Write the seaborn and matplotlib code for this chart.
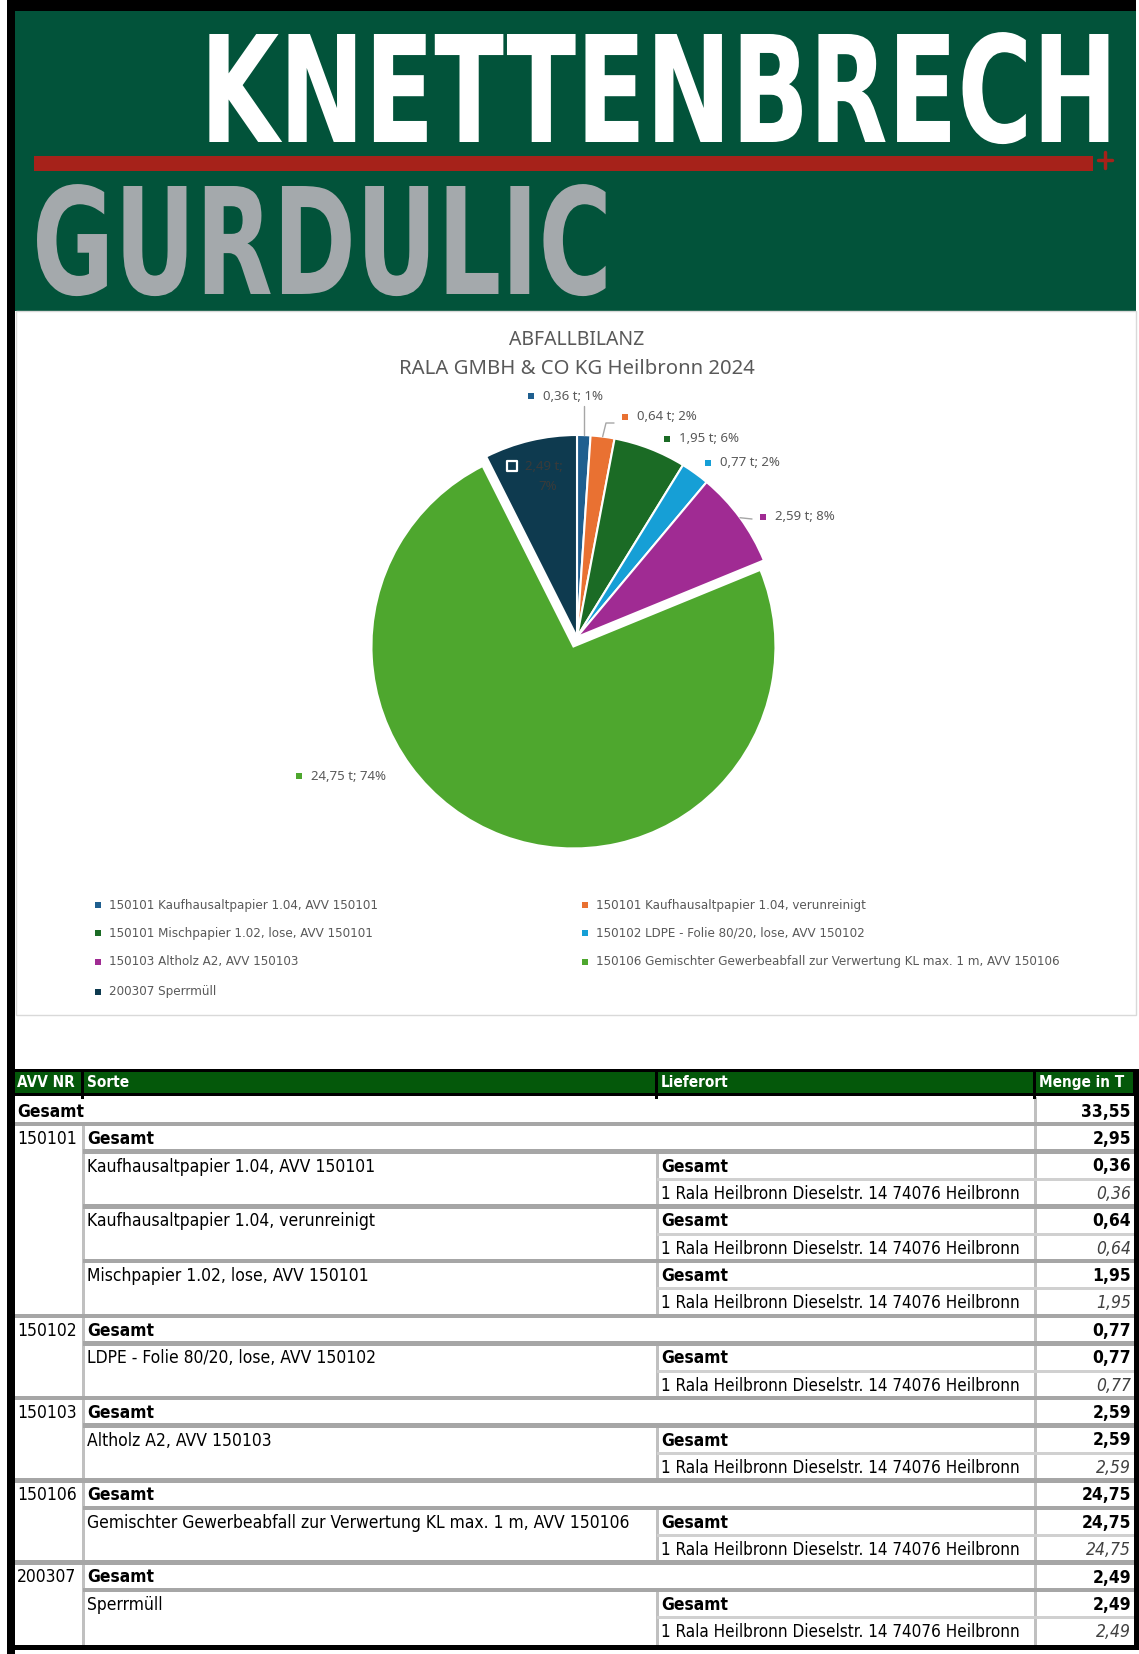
import matplotlib
matplotlib.use("Agg")
import numpy as np
import pandas as pd
import matplotlib.pyplot as plt
from matplotlib.patches import Rectangle
from matplotlib.patheffects import AbstractPathEffect
from matplotlib.transforms import Affine2D
from matplotlib import font_manager
import seaborn as sns

# ---- data ----
sorten = ["150101 Kaufhausaltpapier 1.04, AVV 150101",
          "150101 Kaufhausaltpapier 1.04, verunreinigt",
          "150101 Mischpapier 1.02, lose, AVV 150101",
          "150102 LDPE - Folie 80/20, lose, AVV 150102",
          "150103 Altholz A2, AVV 150103",
          "150106 Gemischter Gewerbeabfall zur Verwertung KL max. 1 m, AVV 150106",
          "200307 Sperrmüll"]
mengen = [0.36, 0.64, 1.95, 0.77, 2.59, 24.75, 2.49]
farben = ["#1f5f8f", "#e97132", "#1b6b25", "#169fd6", "#a02b93", "#4ea72e", "#0e3a4f"]

ort = "1 Rala Heilbronn Dieselstr. 14 74076 Heilbronn"
tab_avv = ["Gesamt", "150101", "", "", "", "", "", "", "150102", "", "",
           "150103", "", "", "150106", "", "", "200307", "", ""]
tab_sorte = ["", "Gesamt", "Kaufhausaltpapier 1.04, AVV 150101", "",
             "Kaufhausaltpapier 1.04, verunreinigt", "",
             "Mischpapier 1.02, lose, AVV 150101", "",
             "Gesamt", "LDPE - Folie 80/20, lose, AVV 150102", "",
             "Gesamt", "Altholz A2, AVV 150103", "",
             "Gesamt", "Gemischter Gewerbeabfall zur Verwertung KL max. 1 m, AVV 150106", "",
             "Gesamt", "Sperrmüll", ""]
tab_ort = ["", "", "Gesamt", ort, "Gesamt", ort, "Gesamt", ort,
           "", "Gesamt", ort, "", "Gesamt", ort, "", "Gesamt", ort, "", "Gesamt", ort]
tab_menge = [33.55, 2.95, 0.36, 0.36, 0.64, 0.64, 1.95, 1.95, 0.77, 0.77, 0.77,
             2.59, 2.59, 2.59, 24.75, 24.75, 24.75, 2.49, 2.49, 2.49]
tab_ebene = [0, 1, 2, 3, 2, 3, 2, 3, 1, 2, 3, 1, 2, 3, 1, 2, 3, 1, 2, 3]
kopf = ["AVV NR", "Sorte", "Lieferort", "Menge in T"]

df = pd.DataFrame({"avv": tab_avv, "sorte": tab_sorte, "ort": tab_ort,
                   "menge": tab_menge, "ebene": tab_ebene})

sns.set_theme(style="white")
# narrow font: DejaVu Sans Condensed if it is there, else Liberation Sans
has_cond = any(f.name == "DejaVu Sans" and f.stretch == "condensed"
               for f in font_manager.fontManager.ttflist)
NARROW = dict(family=["DejaVu Sans"], fontstretch="condensed") if has_cond \
    else dict(family=["Liberation Sans", "DejaVu Sans"])
CHART = ["Noto Sans", "DejaVu Sans"]
plt.rcParams["font.family"] = NARROW["family"]

W, H = 1139, 1654
fig = plt.figure(figsize=(W / 100, H / 100), dpi=100)


def pixel_axes():
    a = fig.add_axes([0, 0, 1, 1])
    a.set_xlim(0, W)
    a.set_ylim(H, 0)
    a.axis("off")
    a.patch.set_alpha(0)
    return a


bg = pixel_axes()


def box(x0, y0, x1, y1, color, z=1, ax=None):
    (ax or bg).add_patch(Rectangle((x0, y0), x1 - x0, y1 - y0, facecolor=color,
                                   edgecolor="none", zorder=z))


def fit(t, width):
    r = fig.canvas.get_renderer()
    bb = t.get_window_extent(r)
    t.set_fontsize(t.get_fontsize() * width / bb.width)


def fmt(v):
    return f"{v:.2f}".replace(".", ",")


class Stretch(AbstractPathEffect):
    """stretch glyphs vertically about the baseline (logo lettering is condensed)"""

    def __init__(self, sy, base):
        super().__init__()
        self.sy, self.base = sy, base

    def draw_path(self, renderer, gc, tpath, affine, rgbFace=None):
        tr = affine + Affine2D().translate(0, -self.base).scale(1, self.sy).translate(0, self.base)
        renderer.draw_path(gc, tpath, tr, rgbFace)


def logo(x, base, s, color, width, cap):
    t = bg.text(x, base, s, color=color, fontsize=100, fontweight="bold",
                ha="left", va="baseline", zorder=3, **NARROW)
    fit(t, width)
    cap_px = 0.729 * t.get_fontsize() * 100 / 72
    t.set_path_effects([Stretch(cap / cap_px, H - base)])
    return t


# ---- frame + logo header ----
box(7, 0, 1136, 11, "black", 5)
box(7, 0, 15, H, "black", 5)
box(15, 11, 1136, 311, "#02533a")
logo(200, 142, "KNETTENBRECH", "white", 918, 108)
box(34, 156, 1093, 171, "#a6221a", 3)
bg.plot([1098, 1112], [160, 160], color="#a6221a", lw=2.5, zorder=3)
bg.plot([1105, 1105], [152, 168], color="#a6221a", lw=2.5, zorder=3)
logo(32, 294, "GURDULIC", "#a4a9ac", 580, 108)

# ---- chart area ----
bg.add_patch(Rectangle((16, 311), 1120, 704, facecolor="white",
                       edgecolor="#d9d9d9", lw=1, zorder=1))
bg.text(577, 340, "ABFALLBILANZ", ha="center", va="center", fontsize=14,
        color="#595959", family=CHART)
tt = bg.text(577, 369, "RALA GMBH & CO KG Heilbronn 2024", ha="center",
             va="center", fontsize=14, color="#595959", family=CHART)
fit(tt, 355)

cx, cy, R = 577, 637, 202
S = 300
pie_ax = fig.add_axes([(cx - S) / W, (H - (cy + S)) / H, 2 * S / W, 2 * S / H])
explode = [0, 0, 0, 0, 0, 0.05, 0]
pie_ax.pie(mengen, colors=sns.color_palette(farben), startangle=90,
           counterclock=False, explode=explode,
           wedgeprops=dict(edgecolor="white", linewidth=1.5))
pie_ax.set_xlim(-S / R, S / R)
pie_ax.set_ylim(-S / R, S / R)
pie_ax.axis("off")

# overlay for labels and leader lines (above the pie)
ov = pixel_axes()

total = sum(mengen)
anteile = np.array(mengen) / total
cum = np.cumsum(anteile)
mid = (cum - anteile / 2) * 2 * np.pi


def rand(i):
    return cx + R * np.sin(mid[i]), cy - R * np.cos(mid[i])


# label anchor positions (marker centre, pixels)
lab_pos = [(531, 396), (625, 417), (667, 439), (708, 463), (763, 517), (299, 776), (512, 466)]
for i, (lx, ly) in enumerate(lab_pos):
    txt = f"{fmt(mengen[i])} t; {round(anteile[i] * 100)}%"
    if i == 6:
        ov.scatter([lx], [ly], marker="s", s=42, color=farben[i],
                   edgecolor="white", linewidth=1.6, zorder=10)
        ov.text(525, ly, f"{fmt(mengen[i])} t;", ha="left", va="center",
                fontsize=9.5, color="#3a3a3a", family=CHART, zorder=10)
        ov.text(548, 487, f"{round(anteile[i] * 100)}%", ha="center", va="center",
                fontsize=9.5, color="#3a3a3a", family=CHART, zorder=10)
        continue
    ov.scatter([lx], [ly], marker="s", s=18, color=farben[i], linewidth=0, zorder=10)
    ov.text(lx + 12, ly, txt, ha="left", va="center", fontsize=9.5,
            color="#595959", family=CHART, zorder=10)

# leader lines
ex, ey = rand(0)
ov.plot([ex, ex], [ey, 406], color="#a6a6a6", lw=1, zorder=9)
ex, ey = rand(1)
ov.plot([ex, 606, 614], [ey, 423, 423], color="#a6a6a6", lw=1, zorder=9)
ex, ey = rand(4)
ov.plot([ex, 752], [ey, 519], color="#a6a6a6", lw=1, zorder=9)

# legend (row-wise, two columns)
leg_x = [98, 585]
leg_y = [905, 933, 962, 992]
for k, name in enumerate(sorten):
    lx, ly = leg_x[k % 2], leg_y[k // 2]
    ov.scatter([lx], [ly], marker="s", s=16, color=farben[k], linewidth=0, zorder=10)
    ov.text(lx + 11, ly, name, ha="left", va="center", fontsize=9.5,
            color="#595959", zorder=10, **NARROW)

# ---- table ----
c0, c1, c2, c3, c4 = 15, 83, 657, 1035, 1135
hdr_top, hdr_bot = 1069, 1096
row0, rh = 1097, 27.4

box(c0, hdr_top, c4, hdr_bot, "black", 2)
box(c0, hdr_top + 3, c4 - 2, hdr_bot - 3, "#04580a", 3)
for x in (c1, c2, c3):
    box(x - 2, hdr_top, x + 1, hdr_bot + 3, "black", 4)
for x, lab in zip((c0 + 2, c1 + 4, c2 + 4, c3 + 4), kopf):
    bg.text(x, (hdr_top + hdr_bot) / 2, lab, color="white", fontsize=11,
            fontweight="bold", ha="left", va="center", zorder=5, **NARROW)

for i, r in df.iterrows():
    y = row0 + i * rh
    yc = y + rh / 2 + 1
    lv = r["ebene"]
    if lv == 1:
        box(c0, y - 2.5, c4, y + 2, "#a6a6a6", 3)
    elif lv == 2:
        box(c1, y - 2.5, c4, y + 2, "#a6a6a6", 3)
    elif lv == 3:
        box(c2, y - 1.5, c4, y + 1.5, "#d0d0d0", 3)
    if lv >= 1:
        box(c1 - 1.5, y, c1 + 1.5, y + rh, "#c0c0c0", 2)
    if lv >= 2:
        box(c2 - 1.5, y, c2 + 1.5, y + rh, "#c0c0c0", 2)
    box(c3 - 1.5, y, c3 + 1.5, y + rh, "#c0c0c0", 2)

    for x, col in ((c0 + 2, "avv"), (c1 + 4, "sorte"), (c2 + 4, "ort")):
        s = r[col]
        if s:
            t = bg.text(x, yc, s, ha="left", va="center", fontsize=12.5,
                        fontweight="bold" if s == "Gesamt" else "normal",
                        color="black", zorder=6, **NARROW)
            if s == ort:
                fit(t, 360)
    if lv == 3:
        bg.text(c4 - 4, yc, fmt(r["menge"]), ha="right", va="center",
                fontsize=12.5, style="italic", color="#404040", zorder=6, **NARROW)
    else:
        bg.text(c4 - 4, yc, fmt(r["menge"]), ha="right", va="center",
                fontsize=12.5, fontweight="bold", color="black", zorder=6, **NARROW)

box(c4 - 1, hdr_top, W, 1650, "black", 5)
box(7, 1645, W, 1650, "black", 5)

fig.savefig("out.png", dpi=100)
